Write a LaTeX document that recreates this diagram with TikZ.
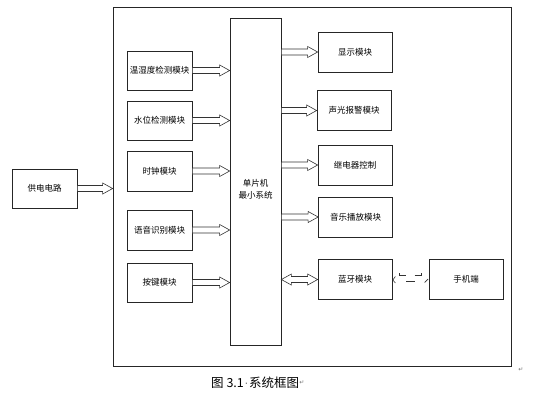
\documentclass[tikz,border=0pt]{standalone}
\usepackage{fontspec}
\setmainfont{Noto Sans CJK SC}
\newfontfamily\symfont{DejaVu Sans}
\usetikzlibrary{calc,arrows.meta}
\begin{document}
\begin{tikzpicture}[x=1pt,y=-1pt,
  box/.style={draw=black!85, line width=0.7pt, minimum width=65pt, minimum height=39pt,
    inner sep=1pt, font=\fontsize{8.5}{10}\selectfont},
  rbox/.style={box, minimum width=74pt, minimum height=39.5pt},
  barrow/.style={draw=black!80, line width=0.6pt, fill=white, to path={
    let \p1=(\tikztostart), \p2=(\tikztotarget) in
    (\x1,\y1+3pt) -- (\x2-10pt,\y1+3pt) -- (\x2-10pt,\y1+5.5pt) -- (\x2,\y1)
    -- (\x2-10pt,\y1-5.5pt) -- (\x2-10pt,\y1-3pt) -- (\x1,\y1-3pt) -- cycle}},
  dbarrow/.style={draw=black!80, line width=0.6pt, fill=white, to path={
    let \p1=(\tikztostart), \p2=(\tikztotarget) in
    (\x1,\y1) -- (\x1+10pt,\y1+5.5pt) -- (\x1+10pt,\y1+3pt) -- (\x2-10pt,\y1+3pt)
    -- (\x2-10pt,\y1+5.5pt) -- (\x2,\y1) -- (\x2-10pt,\y1-5.5pt) -- (\x2-10pt,\y1-3pt)
    -- (\x1+10pt,\y1-3pt) -- (\x1+10pt,\y1-5.5pt) -- cycle}},
  wless/.style={draw=black!80, line width=0.6pt},
  pmark/.style={font=\symfont\fontsize{6}{6}\selectfont, text=black!55, inner sep=0pt}
]
\useasboundingbox (0,0) rectangle (545,408);

\node[draw=black!85, line width=0.7pt, minimum width=398pt, minimum height=359pt, inner sep=0pt] (outer) at (312,186.5) {};

\node[box] (pwr) at (44.5,188.5) {供电电路};

\node[box, minimum width=51pt, minimum height=327pt] (mcu) at (255.5,181.5) {};
\node[font=\fontsize{8.5}{12}\selectfont, align=center, inner sep=0pt] (mcutext) at (255.5,189) {单片机\\最小系统};

\node[box] (b1) at (159.5,70.5) {温湿度检测模块};
\node[box] (b2) at (159.5,120.5) {水位检测模块};
\node[box, minimum height=40pt] (b3) at (159.5,171) {时钟模块};
\node[box, minimum height=40pt] (b4) at (159.5,230) {语音识别模块};
\node[box] (b5) at (159.5,282.5) {按键模块};

\node[rbox, minimum height=40pt] (r1) at (355,52) {显示模块};
\node[rbox] (r2) at (354,110.5) {声光报警模块};
\node[rbox, minimum height=40pt] (r3) at (355,165) {继电器控制};
\node[rbox, minimum height=40pt] (r4) at (355.5,217) {音乐播放模块};
\node[rbox] (r5) at (355,279.5) {蓝牙模块};
\node[rbox] (phone) at (466,279.5) {手机端};

\draw[barrow] (pwr.east) to (outer.west |- pwr.east);

\draw[barrow] (b1.east) to (mcu.west |- b1.east);
\draw[barrow] (b2.east) to (mcu.west |- b2.east);
\draw[barrow] (b3.east) to (mcu.west |- b3.east);
\draw[barrow] (b4.east) to (mcu.west |- b4.east);
\draw[barrow] (b5.east) to (mcu.west |- b5.east);

\draw[barrow] (mcu.east |- r1.west) to (r1.west);
\draw[barrow] (mcu.east |- r2.west) to (r2.west);
\draw[barrow] (mcu.east |- r3.west) to (r3.west);
\draw[barrow] (mcu.east |- r4.west) to (r4.west);
\draw[dbarrow] (mcu.east |- r5.west) to (r5.west);

% wireless link (zigzag dashed strokes)
\draw[wless] ($(r5.east)+(3,-3)$) -- ($(r5.east)+(0.5,0.5)$) -- ($(r5.east)+(3,3.5)$);
\draw[wless] ($(r5.east)+(7,-6.5)$) -- ($(r5.east)+(7,-4.5)$) -- ($(r5.east)+(14,-4.5)$);
\draw[wless] ($(r5.east)+(14,1.5)$) -- ($(r5.east)+(23,1.5)$);
\draw[wless] ($(phone.west)+(-14,-4.5)$) -- ($(phone.west)+(-7,-4.5)$) -- ($(phone.west)+(-7,-6.5)$);
\draw[wless] ($(phone.west)+(-4,3)$) -- ($(phone.west)+(-0.5,-0.5)$);

\node[font=\fontsize{12.5}{14}\selectfont, anchor=west, inner sep=0pt] (cap) at (211,383) {图 3.1{\symfont\fontsize{8}{8}\selectfont\,\raisebox{1.5pt}{·}\,}系统框图};
\node[pmark, anchor=west] (m1) at (cap.east) {↵};
\node[pmark] (m2) at (521,370) {↵};
\end{tikzpicture}
\end{document}
